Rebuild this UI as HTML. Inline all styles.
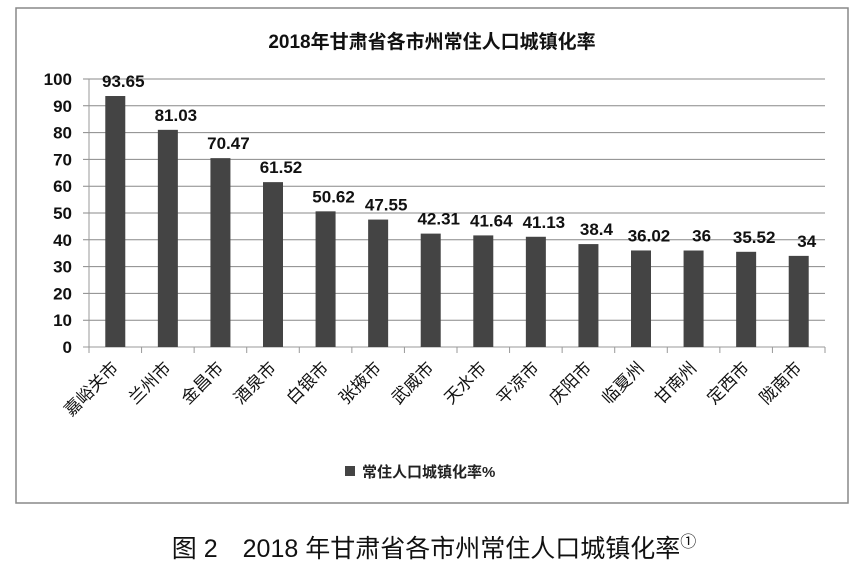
<!DOCTYPE html>
<html><head><meta charset="utf-8"><style>
body{margin:0;background:#fff;}
svg text{font-family:"Liberation Sans","Noto Sans CJK SC",sans-serif;}
</style></head><body>
<svg width="858" height="578">
<rect x="16" y="8" width="832" height="495" fill="#fff" stroke="#888" stroke-width="1.5"/>
<text x="432" y="48" text-anchor="middle" font-size="19" font-weight="bold" fill="#111">2018年甘肃省各市州常住人口城镇化率</text>
<g id="plot"></g>
<rect x="345" y="466" width="10" height="10" fill="#444"/>
<text x="362" y="477" font-size="15" font-weight="bold" fill="#222">常住人口城镇化率%</text>
<text x="434" y="557" text-anchor="middle" font-size="25" fill="#111">图 2　2018 年甘肃省各市州常住人口城镇化率<tspan font-size="16" dy="-10">①</tspan></text>
</svg>
<script>
const categories=["嘉峪关市","兰州市","金昌市","酒泉市","白银市","张掖市","武威市","天水市","平凉市","庆阳市","临夏州","甘南州","定西市","陇南市"];
const values=[93.65,81.03,70.47,61.52,50.62,47.55,42.31,41.64,41.13,38.4,36.02,36,35.52,34];
const valueLabels=["93.65","81.03","70.47","61.52","50.62","47.55","42.31","41.64","41.13","38.4","36.02","36","35.52","34"];
const yTicks=[0,10,20,30,40,50,60,70,80,90,100];
const NS="http://www.w3.org/2000/svg";
const g=document.getElementById('plot');
const x0=89,x1=825,yb=347,yt=79;
const step=(x1-x0)/categories.length;
const y=v=>yb-(v/100)*(yb-yt);
function el(t,a){const e=document.createElementNS(NS,t);for(const k in a)e.setAttribute(k,a[k]);g.appendChild(e);return e;}
yTicks.forEach(v=>{
 const l=el('line',{x1:x0-6,x2:x1,y1:y(v),y2:y(v),stroke:v===0?'#999':'#888','stroke-width':1});
 
 
 const t=el('text',{x:72,y:y(v)+6,'text-anchor':'end','font-size':17,'font-weight':'bold',fill:'#111'});
 t.textContent=v;
 
 
});
const ax=el('line',{x1:x0,x2:x0,y1:yt,y2:yb,stroke:'#999'});


for(let i=0;i<=categories.length;i++){
 const tk=el('line',{x1:x0+i*step,x2:x0+i*step,y1:yb,y2:yb+6,stroke:'#999'});
 
 
}
categories.forEach((c,i)=>{
 const cx=x0+step*(i+0.5);
 const b=el('rect',{x:cx-10,y:y(values[i]),width:20,height:yb-y(values[i]),fill:'#444'});
 
 
 const vl=el('text',{x:cx+8,y:y(values[i])-9,'text-anchor':'middle','font-size':17,'font-weight':'bold',fill:'#111'});
 vl.textContent=valueLabels[i];
 
 
 const tl=el('text',{x:cx+4,y:yb+22,'text-anchor':'end','font-size':17,fill:'#111',transform:`rotate(-45 ${cx+4} ${yb+22})`});
 tl.textContent=c;
 
 
});
</script>
</body></html>
